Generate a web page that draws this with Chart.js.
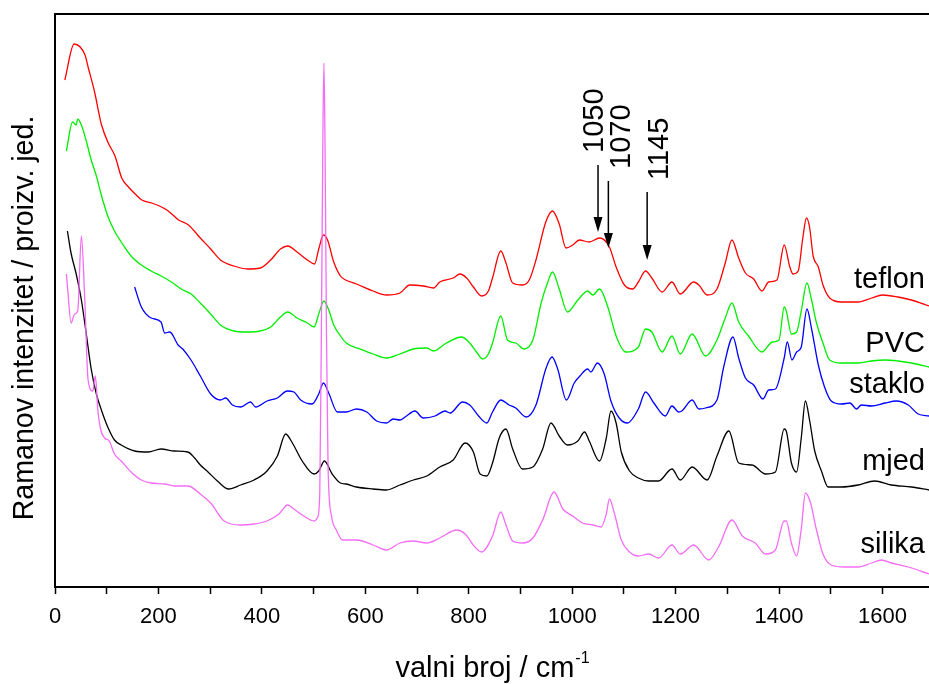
<!DOCTYPE html>
<html>
<head>
<meta charset="utf-8">
<script src="https://cdn.jsdelivr.net/npm/chart.js@4.4.0/dist/chart.umd.min.js"></script>
<style>
html, body { margin: 0; padding: 0; background: #fff; }
#wrap { width: 929px; height: 684px; }
</style>
</head>
<body>
<div id="wrap"><canvas id="ramanChart" width="929" height="684"></canvas></div>
<script>
// Raman spectra, wavenumber (cm-1) and intensity (arb. units, stacked with offsets)

const teflonX = [19, 37, 58, 64, 77, 84, 90, 103, 116, 129, 142, 155, 168, 187, 206, 219, 239, 258, 281, 301,
  320, 346, 372, 397, 417, 436, 450, 468, 488, 502, 510, 519, 527, 539, 552, 562, 583, 615, 641, 667,
  686, 712, 732, 744, 770, 783, 796, 809, 825, 838, 846, 862, 872, 885, 904, 917, 930, 949, 962, 975,
  988, 1001, 1014, 1033, 1053, 1072, 1085, 1101, 1117, 1128, 1142, 1154, 1174, 1193, 1209, 1235, 1245, 1261, 1280, 1296,
  1309, 1322, 1335, 1351, 1367, 1380, 1396, 1410, 1421, 1427, 1437, 1446, 1453, 1459, 1466, 1476, 1485, 1498, 1521, 1553,
  1579, 1600, 1630, 1656, 1690];
const teflonY = [507, 543, 532, 520, 494, 476, 462, 444, 431, 409, 400, 393, 387, 384, 380, 376, 367, 362, 349, 338,
  327, 321, 318, 319, 327, 338, 341, 335, 327, 323, 338, 352, 347, 325, 311, 307, 303, 296, 292, 294,
  302, 301, 299, 305, 309, 313, 309, 300, 291, 296, 309, 336, 324, 304, 302, 307, 327, 365, 376, 363,
  339, 342, 347, 345, 349, 340, 320, 302, 298, 305, 316, 309, 295, 305, 293, 305, 302, 292, 298, 324,
  347, 329, 314, 308, 296, 305, 307, 342, 320, 313, 316, 349, 369, 360, 331, 320, 302, 289, 285, 285,
  289, 292, 290, 287, 281];

const pvcX = [22, 34, 41, 44, 51, 60, 70, 80, 89, 102, 115, 128, 147, 167, 186, 205, 225, 244, 263, 281,
  301, 320, 346, 372, 397, 417, 436, 450, 468, 488, 501, 510, 520, 530, 539, 552, 563, 590, 615, 641,
  667, 693, 719, 732, 757, 786, 802, 815, 827, 838, 846, 862, 875, 891, 907, 924, 940, 953, 962, 975,
  991, 1011, 1030, 1040, 1053, 1069, 1085, 1104, 1128, 1142, 1154, 1174, 1193, 1209, 1232, 1258, 1280, 1296, 1309, 1322,
  1341, 1367, 1387, 1400, 1410, 1414, 1424, 1434, 1443, 1454, 1463, 1472, 1485, 1498, 1521, 1553, 1579, 1605, 1630, 1656,
  1690];
const pvcY = [436, 465, 462, 468, 462, 447, 427, 411, 393, 371, 356, 345, 331, 322, 316, 311, 305, 298, 293, 284,
  273, 262, 256, 255, 256, 260, 270, 275, 269, 264, 260, 273, 286, 276, 262, 251, 244, 238, 233, 229,
  233, 238, 239, 236, 244, 250, 244, 235, 228, 233, 244, 271, 247, 244, 238, 247, 284, 305, 315, 298,
  275, 287, 296, 292, 298, 280, 251, 235, 240, 258, 255, 235, 251, 233, 253, 231, 247, 269, 284, 265,
  251, 235, 245, 247, 280, 276, 253, 255, 276, 304, 287, 265, 244, 227, 224, 224, 226, 227, 226, 224,
  220];

const stakloX = [154, 167, 186, 205, 212, 222, 238, 247, 263, 281, 301, 320, 330, 343, 359, 378, 388, 410, 430, 449,
  462, 475, 497, 510, 519, 530, 546, 563, 583, 603, 622, 641, 654, 667, 677, 696, 712, 735, 754, 764,
  788, 802, 819, 835, 846, 862, 878, 891, 911, 930, 949, 961, 972, 989, 1004, 1015, 1030, 1036, 1049, 1062,
  1075, 1091, 1107, 1128, 1142, 1158, 1180, 1193, 1206, 1212, 1232, 1245, 1258, 1280, 1293, 1311, 1322, 1335, 1351, 1369,
  1380, 1393, 1410, 1416, 1425, 1434, 1443, 1454, 1463, 1476, 1488, 1501, 1521, 1537, 1550, 1559, 1579, 1605, 1627, 1650,
  1669, 1690];
const stakloY = [300, 280, 269, 265, 254, 255, 242, 238, 227, 211, 193, 187, 189, 182, 180, 185, 180, 186, 189, 196,
  195, 187, 183, 193, 204, 193, 175, 175, 178, 175, 166, 164, 168, 167, 170, 176, 169, 171, 176, 174,
  185, 182, 171, 164, 175, 187, 182, 179, 170, 182, 218, 230, 218, 187, 204, 211, 218, 215, 224, 213,
  186, 169, 164, 178, 195, 184, 171, 181, 175, 176, 187, 178, 179, 187, 220, 250, 229, 209, 202, 188,
  197, 198, 229, 245, 227, 235, 240, 278, 258, 222, 200, 186, 183, 184, 178, 182, 181, 184, 186, 182,
  173, 171];

const mjedX = [24, 31, 41, 51, 60, 70, 80, 89, 102, 115, 128, 154, 180, 205, 231, 257, 270, 281, 294, 314,
  336, 359, 385, 410, 430, 446, 459, 478, 501, 510, 521, 536, 552, 563, 583, 615, 641, 667, 693, 719,
  744, 770, 793, 809, 822, 835, 846, 859, 872, 885, 904, 924, 943, 959, 975, 991, 1011, 1024, 1033, 1053,
  1066, 1075, 1085, 1095, 1111, 1128, 1148, 1167, 1193, 1209, 1232, 1261, 1280, 1303, 1322, 1348, 1374, 1393, 1410, 1414,
  1424, 1434, 1443, 1451, 1459, 1469, 1482, 1495, 1521, 1553, 1585, 1617, 1656, 1690];
const mjedY = [356, 334, 313, 287, 255, 218, 193, 178, 160, 147, 142, 136, 135, 138, 136, 135, 129, 122, 116, 106,
  98, 102, 107, 116, 131, 153, 144, 126, 113, 116, 126, 113, 104, 103, 100, 98, 97, 102, 107, 111,
  120, 127, 144, 135, 113, 111, 124, 149, 158, 138, 118, 120, 138, 164, 151, 142, 146, 155, 146, 126,
  149, 176, 164, 135, 116, 109, 106, 106, 118, 107, 120, 107, 131, 156, 124, 122, 113, 115, 158, 156,
  124, 115, 149, 186, 167, 136, 116, 100, 100, 102, 106, 102, 100, 97];

const silikaX = [22, 25, 31, 38, 44, 51, 57, 64, 73, 78, 83, 89, 96, 105, 115, 128, 147, 167, 186, 212,
  231, 257, 281, 301, 327, 359, 385, 410, 433, 450, 462, 481, 501, 508, 512, 515, 518, 520, 522, 525,
  528, 535, 544, 556, 583, 615, 641, 667, 693, 719, 744, 777, 793, 812, 825, 846, 862, 872, 885, 904,
  924, 943, 965, 982, 1001, 1020, 1040, 1056, 1066, 1072, 1082, 1095, 1111, 1128, 1148, 1167, 1193, 1209, 1235, 1264,
  1283, 1309, 1329, 1354, 1374, 1393, 1410, 1414, 1424, 1434, 1443, 1451, 1461, 1472, 1485, 1501, 1527, 1553, 1579, 1598,
  1617, 1650, 1690];
const silikaY = [313, 295, 264, 273, 276, 351, 295, 207, 196, 211, 176, 156, 149, 146, 133, 126, 115, 107, 104, 103,
  101, 101, 93, 84, 66, 62, 63, 66, 73, 82, 78, 71, 66, 70, 95, 250, 450, 524, 450, 250,
  120, 70, 57, 47, 47, 42, 37, 44, 46, 44, 49, 57, 53, 40, 35, 51, 75, 62, 46, 44,
  49, 67, 95, 78, 71, 64, 62, 60, 73, 88, 73, 47, 35, 31, 33, 29, 42, 33, 42, 27,
  40, 67, 51, 44, 33, 37, 66, 66, 44, 31, 58, 94, 84, 58, 33, 22, 20, 20, 24, 27,
  24, 20, 13];

const sampleNames = ["teflon", "PVC", "staklo", "mjed", "silika"];
const sampleX = [teflonX, pvcX, stakloX, mjedX, silikaX];
const sampleY = [teflonY, pvcY, stakloY, mjedY, silikaY];
const sampleColors = ["#ff0000", "#00ee00", "#0000ff", "#000000", "#f56cf5"];

// x axis: tick every 100, label every 200
const xTickValues = [0, 100, 200, 300, 400, 500, 600, 700, 800, 900, 1000, 1100, 1200, 1300, 1400, 1500, 1600];

// marked bands (cm-1)
const peakMarks = [1050, 1070, 1145];

const FONT = "'Liberation Sans', Arial, sans-serif";

// intensity level of each sample name (baseline of the text)
const nameLevels = [299, 235, 194, 117, 34];
// arrow top / tip levels and label shifts for the marked bands
const arrowTop = [422, 406, 395];
const arrowTip = [355, 339, 327];
const markTextDx = [5, 22, 21];

const decorations = {
  id: "decorations",
  afterDraw(chart) {
    const { ctx, chartArea, scales } = chart;
    const xs = scales.x, ys = scales.y;
    ctx.save();

    // top frame line
    ctx.strokeStyle = "#000";
    ctx.lineWidth = 2;
    ctx.beginPath();
    ctx.moveTo(chartArea.left - 1, chartArea.top);
    ctx.lineTo(chartArea.right, chartArea.top);
    ctx.stroke();

    // sample names at the right end of each trace
    ctx.fillStyle = "#000";
    ctx.font = "29px " + FONT;
    ctx.textAlign = "right";
    ctx.textBaseline = "alphabetic";
    sampleNames.forEach((name, i) => {
      ctx.fillText(name, 925, ys.getPixelForValue(nameLevels[i]));
    });

    // arrows pointing at the marked bands
    peakMarks.forEach((wn, i) => {
      const px = xs.getPixelForValue(wn);
      const top = ys.getPixelForValue(arrowTop[i]);
      const tip = ys.getPixelForValue(arrowTip[i]);
      ctx.lineWidth = 1.5;
      ctx.beginPath();
      ctx.moveTo(px, top);
      ctx.lineTo(px, tip - 12);
      ctx.stroke();
      ctx.beginPath();
      ctx.moveTo(px - 4.5, tip - 15);
      ctx.lineTo(px + 4.5, tip - 15);
      ctx.lineTo(px, tip);
      ctx.closePath();
      ctx.fill();

      ctx.save();
      ctx.translate(px + markTextDx[i], top - 12);
      ctx.rotate(-Math.PI / 2);
      ctx.textAlign = "left";
      ctx.textBaseline = "alphabetic";
      ctx.font = "29px " + FONT;
      ctx.fillText(String(wn), 0, 0);
      ctx.restore();
    });

    // y axis title
    ctx.save();
    ctx.translate(33, 318);
    ctx.rotate(-Math.PI / 2);
    ctx.textAlign = "center";
    ctx.textBaseline = "alphabetic";
    ctx.font = "28.6px " + FONT;
    ctx.fillText("Ramanov intenzitet / proizv. jed.", 0, 0);
    ctx.restore();

    // x axis title with superscript
    const main = "valni broj / cm";
    const sup = "-1";
    ctx.font = "29px " + FONT;
    const wMain = ctx.measureText(main).width;
    ctx.font = "16px " + FONT;
    const wSup = ctx.measureText(sup).width;
    const left = (chartArea.left + chartArea.right) / 2 - (wMain + wSup) / 2;
    ctx.textAlign = "left";
    ctx.font = "29px " + FONT;
    ctx.fillText(main, left, 677);
    ctx.font = "16px " + FONT;
    ctx.fillText(sup, left + wMain + 1, 663);

    ctx.restore();
  }
};

new Chart(document.getElementById("ramanChart"), {
  type: "line",
  data: {
    datasets: sampleNames.map((name, i) => ({
      label: name,
      data: sampleX[i].map((x, k) => ({ x: x, y: sampleY[i][k] })),
      borderColor: sampleColors[i],
      borderWidth: 1.3,
      pointRadius: 0,
      fill: false,
      cubicInterpolationMode: "monotone",
      order: name === "silika" ? -1 : i
    }))
  },
  options: {
    responsive: false,
    animation: false,
    layout: { autoPadding: false, padding: { top: 14, right: 0, left: 0, bottom: 0 } },
    plugins: {
      legend: { display: false },
      tooltip: { enabled: false }
    },
    scales: {
      x: {
        type: "linear",
        min: 0,
        max: 1690,
        border: { display: true, color: "#000", width: 2 },
        grid: { display: true, drawOnChartArea: false, drawTicks: true, tickLength: 7, tickColor: "#000", tickWidth: 1.5 },
        afterBuildTicks: s => { s.ticks = xTickValues.map(v => ({ value: v })); },
        ticks: {
          autoSkip: false,
          maxRotation: 0,
          padding: 10,
          color: "#000",
          font: { family: FONT, size: 22 },
          callback: v => (v % 200 === 0 ? String(v) : "")
        },
        afterFit: s => { s.height = 97; }
      },
      y: {
        min: 0,
        max: 573,
        border: { display: true, color: "#000", width: 2 },
        grid: { display: false },
        ticks: { display: false },
        afterFit: s => { s.width = 55; }
      }
    }
  },
  plugins: [decorations]
});
</script>
</body>
</html>
